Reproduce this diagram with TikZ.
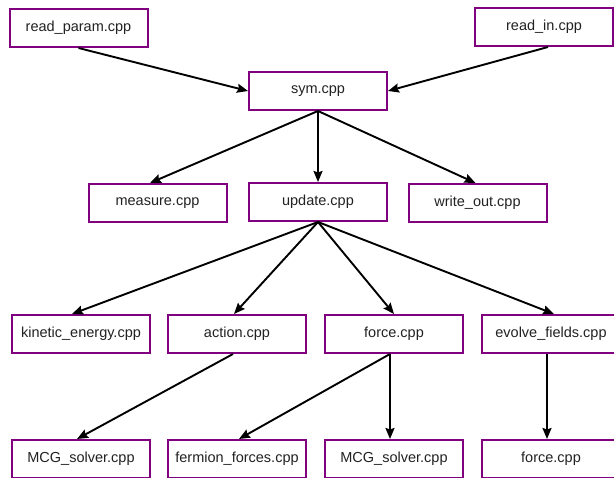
\documentclass[tikz,border=0pt]{standalone}
\usepackage{fontspec}
\setmainfont{Liberation Sans}
\usetikzlibrary{arrows.meta}
\definecolor{boxpurple}{HTML}{800080}
\definecolor{txtgray}{HTML}{222222}
\tikzset{
  filebox/.style={draw=boxpurple, line width=2pt, fill=white, minimum width=138pt, minimum height=38pt,
    inner sep=0pt, font=\fontsize{14.5}{16}\selectfont, text=txtgray},
  link/.style={line width=1.9pt, -{Stealth[length=11pt,width=9pt,inset=1.5pt]}}
}
\begin{document}
\begin{tikzpicture}[x=1pt,y=-1pt]
\useasboundingbox (0,0) rectangle (614,478);
\clip (0,0) rectangle (614,478);
\fill[white] (0,0) rectangle (614,478);
\node[filebox] (rp) at (78.5,28) {read\_param.cpp};
\node[filebox] (ri) at (544,27) {read\_in.cpp};
\node[filebox] (sym) at (318,91) {sym.cpp};
\node[filebox] (meas) at (157.5,203) {measure.cpp};
\node[filebox] (upd) at (318,202) {update.cpp};
\node[filebox] (wo) at (477.5,203) {write\_out.cpp};
\node[filebox] (ke) at (81,334) {kinetic\_energy.cpp};
\node[filebox] (act) at (237,334) {action.cpp};
\node[filebox] (frc) at (394,334) {force.cpp};
\node[filebox] (evo) at (551,334) {evolve\_fields.cpp};
\node[filebox] (mcga) at (81,459) {MCG\_solver.cpp};
\node[filebox] (ferm) at (237,459) {fermion\_forces.cpp};
\node[filebox] (mcgb) at (394,459) {MCG\_solver.cpp};
\node[filebox] (frcb) at (551,459) {force.cpp};

\draw[link] (rp.south) -- (sym.west);
\draw[link] ([xshift=4pt]ri.south) -- (sym.east);
\draw[link] (sym.south) -- ([xshift=-7.5pt]meas.north);
\draw[link] (sym.south) -- (upd.north);
\draw[link] (sym.south) -- ([xshift=-2pt]wo.north);
\draw[link] (upd.south) -- ([xshift=-9pt]ke.north);
\draw[link] (upd.south) -- ([xshift=-3pt]act.north);
\draw[link] (upd.south) -- (frc.north);
\draw[link] (upd.south) -- ([xshift=3pt]evo.north);
\draw[link] ([xshift=-4pt]act.south) -- ([xshift=-4pt]mcga.north);
\draw[link] ([xshift=-4pt]frc.south) -- ([xshift=2pt]ferm.north);
\draw[link] ([xshift=-4pt]frc.south) -- ([xshift=-4pt]mcgb.north);
\draw[link] ([xshift=-4pt]evo.south) -- ([xshift=-4pt]frcb.north);
\end{tikzpicture}
\end{document}
